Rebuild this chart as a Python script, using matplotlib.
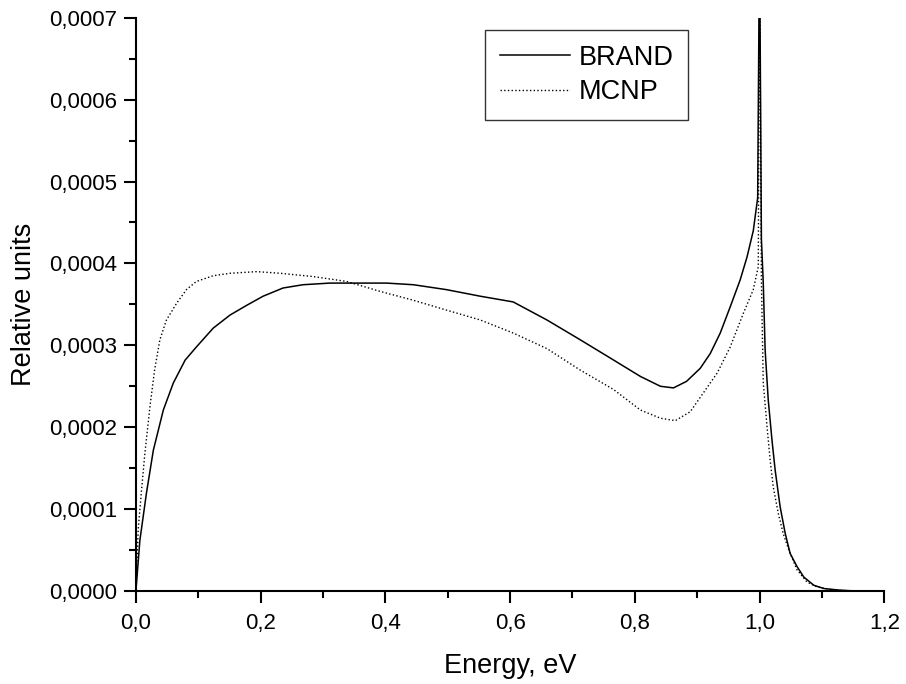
import numpy as np
import matplotlib
matplotlib.use("Agg")
import matplotlib.pyplot as plt
from matplotlib.ticker import MultipleLocator, FuncFormatter

plt.rcParams['font.family'] = ['Liberation Sans', 'DejaVu Sans']

# BRAND spectrum (energy in eV, intensity in units of 1e-4)
brand_e = [0, 0.0064, 0.017, 0.028, 0.044, 0.060, 0.079, 0.097, 0.124, 0.151, 0.178,
           0.204, 0.236, 0.268, 0.311, 0.365, 0.402, 0.445, 0.498, 0.552, 0.605, 0.659,
           0.712, 0.766, 0.809, 0.841, 0.862, 0.883, 0.905, 0.921, 0.937, 0.953, 0.969,
           0.980, 0.990, 0.997, 1.000, 1.003, 1.006, 1.009, 1.014, 1.020, 1.025, 1.033,
           1.041, 1.049, 1.060, 1.071, 1.087, 1.103, 1.129, 1.146, 1.2]
brand_v = [0, 0.62, 1.20, 1.72, 2.21, 2.54, 2.82, 2.98, 3.21, 3.37, 3.49,
           3.60, 3.70, 3.74, 3.76, 3.76, 3.76, 3.74, 3.68, 3.60, 3.53, 3.31,
           3.07, 2.82, 2.62, 2.50, 2.48, 2.56, 2.72, 2.90, 3.15, 3.47, 3.80,
           4.08, 4.40, 4.80, 8.0, 4.30, 3.76, 2.94, 2.33, 1.84, 1.48, 1.03,
           0.71, 0.46, 0.30, 0.17, 0.07, 0.03, 0.01, 0.003, 0.0]

# MCNP spectrum
mcnp_e = [0, 0.0037, 0.009, 0.0144, 0.0225, 0.030, 0.0385, 0.049, 0.065, 0.081, 0.097,
          0.124, 0.151, 0.194, 0.231, 0.284, 0.338, 0.391, 0.445, 0.498, 0.552, 0.605,
          0.659, 0.712, 0.766, 0.809, 0.841, 0.865, 0.889, 0.910, 0.932, 0.953, 0.974,
          0.990, 0.998, 1.000, 1.003, 1.006, 1.012, 1.017, 1.022, 1.030, 1.038, 1.047,
          1.060, 1.076, 1.092, 1.119, 1.146, 1.2]
mcnp_v = [0, 0.75, 1.23, 1.68, 2.25, 2.70, 3.07, 3.31, 3.51, 3.68, 3.78,
          3.85, 3.88, 3.90, 3.88, 3.84, 3.78, 3.66, 3.55, 3.43, 3.31, 3.15,
          2.96, 2.70, 2.46, 2.21, 2.11, 2.08, 2.19, 2.42, 2.66, 2.98, 3.39,
          3.68, 3.96, 8.0, 3.80, 2.54, 2.01, 1.60, 1.27, 0.95, 0.70, 0.50,
          0.26, 0.11, 0.05, 0.01, 0.002, 0.0]

fig = plt.figure(figsize=(9.06, 6.84), dpi=100)
ax = fig.add_axes([0.150, 0.136, 0.826, 0.838])

ax.plot(brand_e, np.array(brand_v) * 1e-4, "k-", lw=1.1, label='BRAND')
ax.plot(mcnp_e, np.array(mcnp_v) * 1e-4, "k:", lw=1.0, label='MCNP')

ax.set_xlim(0, 1.2)
ax.set_ylim(0, 0.0007)
ax.spines['top'].set_visible(False)
ax.spines['right'].set_visible(False)
ax.spines['left'].set_linewidth(1.5)
ax.spines['bottom'].set_linewidth(1.5)

ax.xaxis.set_major_locator(MultipleLocator(0.2))
ax.xaxis.set_minor_locator(MultipleLocator(0.1))
ax.yaxis.set_major_locator(MultipleLocator(0.0001))
ax.yaxis.set_minor_locator(MultipleLocator(0.00005))
ax.xaxis.set_major_formatter(FuncFormatter(lambda v, p: ('%.1f' % v).replace('.', ',')))
ax.yaxis.set_major_formatter(FuncFormatter(lambda v, p: ('%.4f' % v).replace('.', ',')))
ax.tick_params(which='major', direction='out', length=8.5, width=1.5, labelsize=16)
ax.tick_params(which='minor', direction='out', length=5, width=1.5)
ax.tick_params(axis='x', which='major', pad=7)
ax.tick_params(axis='y', which='major', pad=5)

ax.set_xlabel('Energy, eV', fontsize=19.5, labelpad=14)
ax.set_ylabel('Relative units', fontsize=19.5, labelpad=9)

leg = ax.legend(loc='upper left', bbox_to_anchor=(485 / 906, 1 - 30 / 684),
                bbox_transform=fig.transFigure, fontsize=19.5, frameon=True,
                fancybox=False, handlelength=2.6, handletextpad=0.3,
                borderaxespad=0, borderpad=0.55, labelspacing=0.3)
leg.get_frame().set_edgecolor('black')
leg.get_frame().set_linewidth(1.0)

plt.savefig("out.png", dpi=100)
